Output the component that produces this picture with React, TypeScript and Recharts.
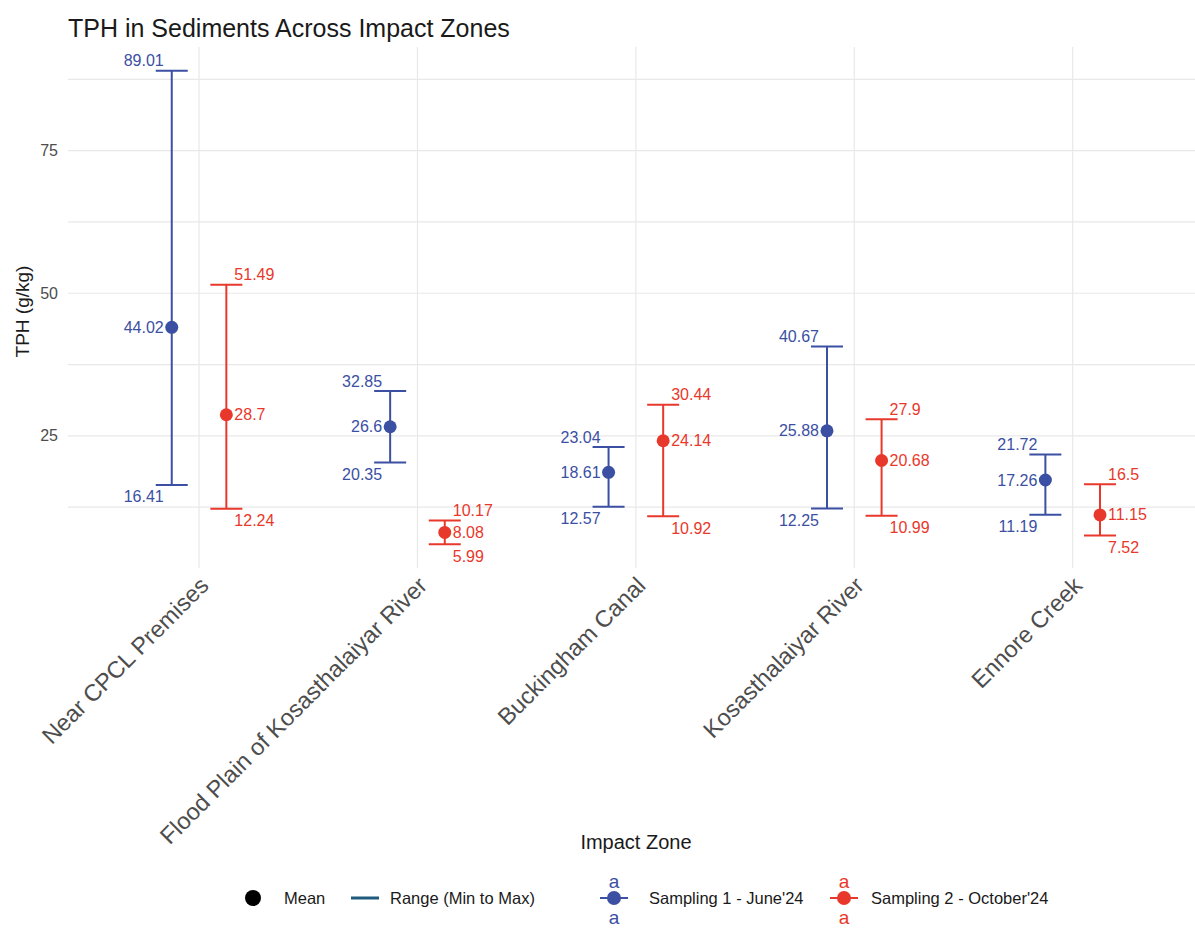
import { ScatterChart, Scatter, XAxis, YAxis, CartesianGrid, ErrorBar } from 'recharts'

const zones = [
  'Near CPCL Premises',
  'Flood Plain of Kosasthalaiyar River',
  'Buckingham Canal',
  'Kosasthalaiyar River',
  'Ennore Creek',
]

// Sampling 1 - June'24
const juneMean = [44.02, 26.6, 18.61, 25.88, 17.26]
const juneMin = [16.41, 20.35, 12.57, 12.25, 11.19]
const juneMax = [89.01, 32.85, 23.04, 40.67, 21.72]

// Sampling 2 - October'24
const octMean = [28.7, 8.08, 24.14, 20.68, 11.15]
const octMin = [12.24, 5.99, 10.92, 10.99, 7.52]
const octMax = [51.49, 10.17, 30.44, 27.9, 16.5]

const yTicks = [12.5, 25, 37.5, 50, 62.5, 75, 87.5]
const xTicks = [0, 1, 2, 3, 4]
const yDomain = [1.84, 93.16]
const xDomain = [-0.6, 4.56]

const FONT = '"Liberation Sans", Arial, Helvetica, sans-serif'
const BLUE = '#3b4fa3'
const RED = '#e8382b'
const DODGE = 0.125

const meanRows = (means: number[], mins: number[], maxs: number[], shift: number) =>
  zones.map((_, i) => ({ x: i + shift, y: means[i], err: [means[i] - mins[i], maxs[i] - means[i]] }))

const endRows = (vals: number[], shift: number) => zones.map((_, i) => ({ x: i + shift, y: vals[i] }))

const meanShape = (color: string, side: number) => (p: any) => (
  <g>
    <circle cx={p.cx} cy={p.cy} r={6.5} fill={color} />
    <text
      x={p.cx + side * 8}
      y={p.cy}
      dy="0.35em"
      textAnchor={side < 0 ? 'end' : 'start'}
      fill={color}
      fontSize={16}
      fontFamily={FONT}
    >
      {p.payload.y}
    </text>
  </g>
)

const endShape = (color: string, side: number, offY: number) => (p: any) => (
  <text
    x={p.cx + side * 8}
    y={p.cy + offY}
    dy="0.35em"
    textAnchor={side < 0 ? 'end' : 'start'}
    fill={color}
    fontSize={16}
    fontFamily={FONT}
  >
    {p.payload.y}
  </text>
)

const ZoneTick = (p: any) => {
  const x = p.x + 11
  const y = p.y + 19
  return (
    <text
      x={x}
      y={y}
      transform={`rotate(-45 ${x} ${y})`}
      textAnchor="end"
      fontSize={23.5}
      fill="#4d4d4d"
      fontFamily={FONT}
    >
      {zones[Math.round(p.payload.value)]}
    </text>
  )
}

const ValueTick = (p: any) => {
  if (!Number.isInteger(p.payload.value)) return <g />
  return (
    <text x={p.x - 10} y={p.y} dy="0.35em" textAnchor="end" fontSize={16} fill="#4d4d4d" fontFamily={FONT}>
      {p.payload.value}
    </text>
  )
}

// grid only at the tick values, no lines on the panel edges
const applyScale = (axis: any, v: number, lo: number, span: number, dom: number[], flip: boolean) => {
  const s = axis?.scale
  if (typeof s === 'function') return s(v)
  if (s && typeof s.map === 'function') return s.map(v)
  const f = (v - dom[0]) / (dom[1] - dom[0])
  return flip ? lo + span * (1 - f) : lo + span * f
}
const gridY = (g: any) =>
  yTicks.map((t) => applyScale(g.yAxis, t, g.offset.top, g.offset.height, yDomain, true))
const gridX = (g: any) =>
  xTicks.map((t) => applyScale(g.xAxis, t, g.offset.left, g.offset.width, xDomain, false))

export default function App() {
  return (
    <div style={{ position: 'absolute', left: 0, top: 0, width: 1195, height: 929, overflow: 'hidden', background: '#fff', fontFamily: FONT }}>
      <div style={{ position: 'absolute', left: 68, top: 14, fontSize: 25, color: '#1a1a1a', lineHeight: 'normal' }}>
        TPH in Sediments Across Impact Zones
      </div>
      <ScatterChart width={1195} height={929} margin={{ top: 47, right: 0, bottom: 0, left: 0 }}>
        <CartesianGrid
          stroke="#e8e8e8"
          strokeWidth={1.2}
          horizontalCoordinatesGenerator={gridY}
          verticalCoordinatesGenerator={gridX}
        />
        <XAxis
          type="number"
          dataKey="x"
          domain={xDomain}
          ticks={xTicks}
          allowDataOverflow
          height={361}
          axisLine={false}
          tickLine={false}
          tickSize={0}
          tickMargin={0}
          interval={0}
          tick={<ZoneTick />}
          label={(p: any) => (
            <text x={636} y={p.viewBox.y + 281} textAnchor="middle" fontSize={20} fill="#1a1a1a" fontFamily={FONT}>
              Impact Zone
            </text>
          )}
        />
        <YAxis
          type="number"
          dataKey="y"
          domain={yDomain}
          ticks={yTicks}
          allowDataOverflow
          width={68}
          axisLine={false}
          tickLine={false}
          tickSize={0}
          tickMargin={0}
          interval={0}
          tick={<ValueTick />}
          label={(p: any) => (
            <text
              x={29}
              y={p.viewBox.y + p.viewBox.height / 2 + 4}
              transform={`rotate(-90 29 ${p.viewBox.y + p.viewBox.height / 2 + 4})`}
              textAnchor="middle"
              fontSize={19}
              fill="#1a1a1a"
              fontFamily={FONT}
            >
              TPH (g/kg)
            </text>
          )}
        />

        <Scatter data={meanRows(juneMean, juneMin, juneMax, -DODGE)} shape={meanShape(BLUE, -1)} isAnimationActive={false}>
          <ErrorBar dataKey="err" direction="y" width={16} stroke={BLUE} strokeWidth={2} isAnimationActive={false} />
        </Scatter>
        <Scatter data={endRows(juneMax, -DODGE)} shape={endShape(BLUE, -1, -10)} isAnimationActive={false} />
        <Scatter data={endRows(juneMin, -DODGE)} shape={endShape(BLUE, -1, 12)} isAnimationActive={false} />

        <Scatter data={meanRows(octMean, octMin, octMax, DODGE)} shape={meanShape(RED, 1)} isAnimationActive={false}>
          <ErrorBar dataKey="err" direction="y" width={16} stroke={RED} strokeWidth={2} isAnimationActive={false} />
        </Scatter>
        <Scatter data={endRows(octMax, DODGE)} shape={endShape(RED, 1, -10)} isAnimationActive={false} />
        <Scatter data={endRows(octMin, DODGE)} shape={endShape(RED, 1, 12)} isAnimationActive={false} />
      </ScatterChart>

      <svg width={1195} height={69} style={{ position: 'absolute', left: 0, top: 860 }}>
        <g transform="translate(0,-860)" fontFamily={FONT} fontSize={16.5} fill="#1a1a1a">
          <circle cx={253} cy={898} r={8} fill="#000" />
          <text x={284} y={904}>Mean</text>
          <line x1={351} x2={379} y1={898} y2={898} stroke="#1f5b7c" strokeWidth={3} />
          <text x={390} y={904}>Range (Min to Max)</text>

          <line x1={600} x2={628} y1={898} y2={898} stroke={BLUE} strokeWidth={2} />
          <circle cx={614} cy={898} r={7} fill={BLUE} />
          <text x={614} y={888} textAnchor="middle" fill={BLUE} fontSize={19}>a</text>
          <text x={614} y={924} textAnchor="middle" fill={BLUE} fontSize={19}>a</text>
          <text x={649} y={904}>Sampling 1 - June'24</text>

          <line x1={830} x2={858} y1={898} y2={898} stroke={RED} strokeWidth={2} />
          <circle cx={844} cy={898} r={7} fill={RED} />
          <text x={844} y={888} textAnchor="middle" fill={RED} fontSize={19}>a</text>
          <text x={844} y={924} textAnchor="middle" fill={RED} fontSize={19}>a</text>
          <text x={871} y={904}>Sampling 2 - October'24</text>
        </g>
      </svg>
    </div>
  )
}
